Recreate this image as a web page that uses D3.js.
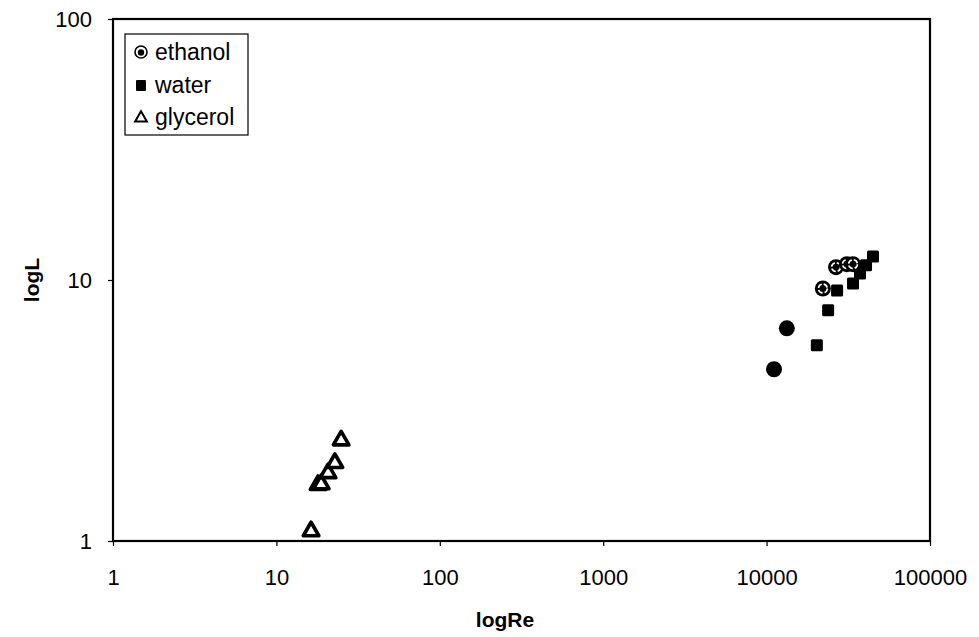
<!DOCTYPE html>
<html><head><meta charset="utf-8">
<script src="https://cdn.jsdelivr.net/npm/d3@7"></script>
<style>body{margin:0;background:#fff}svg{display:block}text{font-family:"Liberation Sans",Arial,sans-serif}</style>
</head><body><svg id="c" width="979" height="637"></svg>
<script>
const xTicks = [1, 10, 100, 1000, 10000, 100000];
const yTicks = [1, 10, 100];
const seriesNames = ["ethanol", "water", "glycerol"];
const ethanolRe = [11100, 13300, 22100, 26600, 31000, 33800];
const ethanolL  = [4.55, 6.53, 9.28, 11.2, 11.5, 11.5];
const waterRe = [20300, 23800, 27000, 33800, 37300, 40600, 44800];
const waterL  = [5.62, 7.65, 9.12, 9.70, 10.6, 11.4, 12.3];
const glycerolRe = [16.3, 18.0, 18.8, 20.7, 22.8, 24.9];
const glycerolL  = [1.09, 1.64, 1.65, 1.82, 1.99, 2.43];

const svg = d3.select("#c");
const L = 113, R = 930, T = 19, B = 541;
const x = d3.scaleLog().domain([1, 100000]).range([L, R]);
const y = d3.scaleLog().domain([1, 100]).range([B, T]);

const xa = svg.append("g").attr("transform", `translate(0,${B})`)
  .call(d3.axisBottom(x).tickValues(xTicks).tickFormat(d3.format("d")).tickSize(5).tickPadding(23));
const ya = svg.append("g").attr("transform", `translate(${L},0)`)
  .call(d3.axisLeft(y).tickValues(yTicks).tickFormat(d3.format("d")).tickSize(5).tickPadding(16));
[xa, ya].forEach(a => {
  a.select(".domain").remove();
  a.selectAll("line").attr("stroke", "#000").attr("stroke-width", 1.2);
  a.selectAll("text").attr("font-size", 22).attr("fill", "#000").attr("font-family", "Liberation Sans, Arial, sans-serif");
});
svg.append("rect").attr("x", L).attr("y", T).attr("width", R - L).attr("height", B - T)
  .attr("fill", "none").attr("stroke", "#000").attr("stroke-width", 2.2);

svg.append("text").attr("x", 505).attr("y", 627).attr("text-anchor", "middle")
  .attr("font-size", 21).attr("font-weight", "bold").text("logRe");
svg.append("text").attr("transform", `translate(39,${(T + B) / 2}) rotate(-90)`).attr("text-anchor", "middle")
  .attr("font-size", 21).attr("font-weight", "bold").text("logL");

const tri = d3.symbol().type(d3.symbolTriangle).size(105);
function ethMarker(g, cx, cy, solid, r) {
  g.append("circle").attr("cx", cx).attr("cy", cy).attr("r", r).attr("fill", "#000");
  if (!solid) {
    g.append("circle").attr("cx", cx).attr("cy", cy).attr("r", r * 0.55).attr("fill", "none")
      .attr("stroke", "#fff").attr("stroke-width", 1.6).attr("stroke-dasharray", "5,2");
  }
}
const pts = svg.append("g");
glycerolRe.forEach((v, i) => {
  pts.append("path").attr("d", tri).attr("transform", `translate(${x(v)},${y(glycerolL[i])})`)
    .attr("fill", "#fff").attr("stroke", "#000").attr("stroke-width", 3.6).attr("stroke-linejoin", "round");
});
waterRe.forEach((v, i) => {
  pts.append("rect").attr("x", x(v) - 6).attr("y", y(waterL[i]) - 6).attr("width", 12).attr("height", 12)
    .attr("rx", 1.5).attr("fill", "#000");
});
ethanolRe.forEach((v, i) => {
  ethMarker(pts, x(v), y(ethanolL[i]), i < 2, 8);
});

// legend
const lg = svg.append("g");
lg.append("rect").attr("x", 125).attr("y", 34).attr("width", 123).attr("height", 101)
  .attr("fill", "#fff").attr("stroke", "#000").attr("stroke-width", 1.2);
const rowsY = [52, 85, 117];
seriesNames.forEach((n, i) => {
  const cy = rowsY[i];
  if (i === 0) {
    lg.append("circle").attr("cx", 141).attr("cy", cy).attr("r", 6).attr("fill", "#fff").attr("stroke", "#000").attr("stroke-width", 1.6);
    lg.append("circle").attr("cx", 141).attr("cy", cy + 0.5).attr("r", 3.2).attr("fill", "#000");
  } else if (i === 1) {
    lg.append("rect").attr("x", 136).attr("y", cy - 5).attr("width", 10).attr("height", 11).attr("rx", 1).attr("fill", "#000");
  } else {
    lg.append("path").attr("d", d3.symbol().type(d3.symbolTriangle).size(60)).attr("transform", `translate(141,${cy + 1})`)
      .attr("fill", "#fff").attr("stroke", "#000").attr("stroke-width", 2);
  }
  lg.append("text").attr("x", 155).attr("y", cy + 8).attr("font-size", 23).text(n);
});
</script></body></html>
